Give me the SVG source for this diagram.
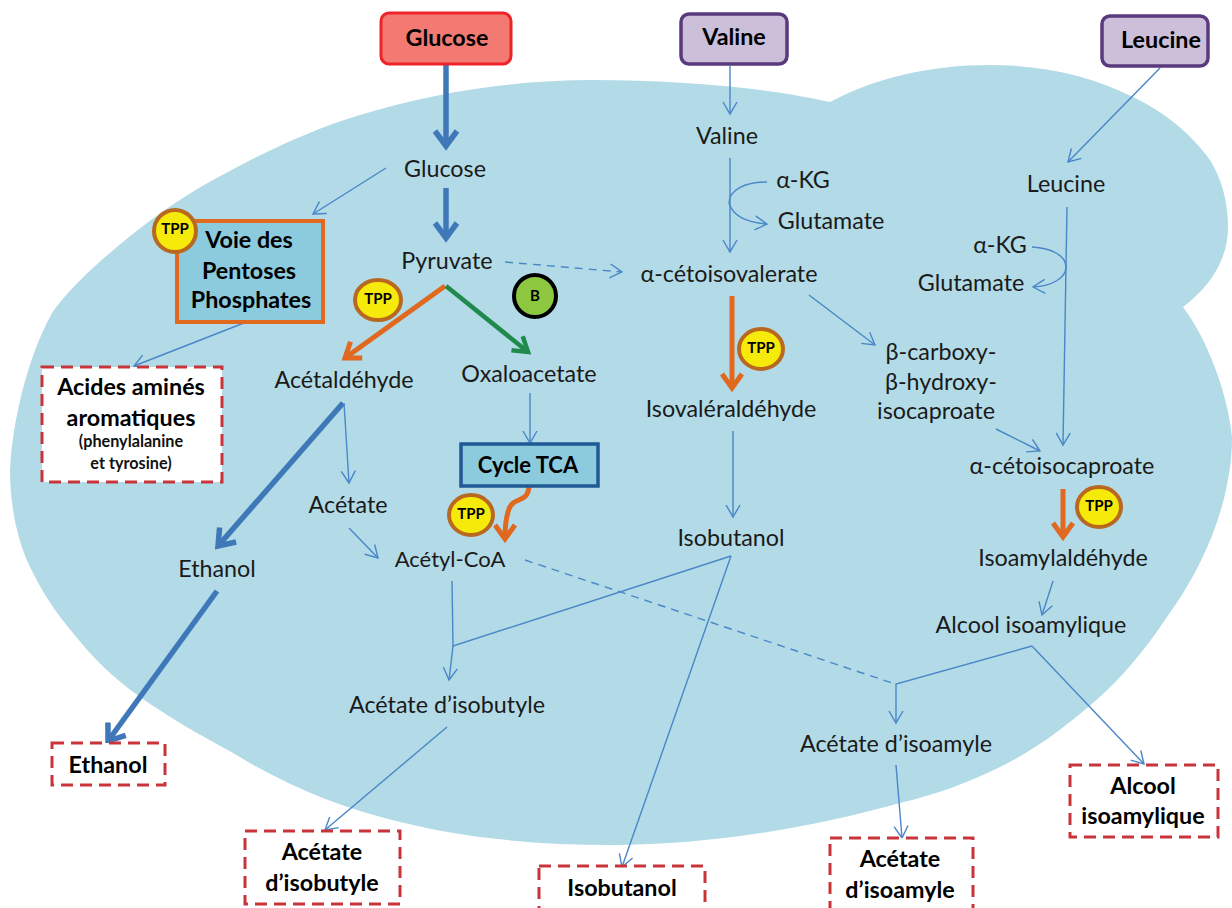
<svg xmlns="http://www.w3.org/2000/svg" width="1232" height="908" viewBox="0 0 1232 908">
<style>
text{font-family:"Lato","Carlito","Liberation Sans",sans-serif;fill:#1a1a1a;text-anchor:middle}
.l{font-size:23.3px}
.b{font-size:23.3px;font-weight:700;fill:#000}
.s{font-size:16.2px;font-weight:700;fill:#111}
.t{font-size:15px;font-weight:700;fill:#000}
.tc{fill:#f5ea0a;stroke:#b9691f;stroke-width:4}
.d{fill:#fff;stroke:#c9343a;stroke-width:3;stroke-dasharray:12 7}
.thin{fill:none;stroke:#4a86c8;stroke-width:1.4}
.dash{stroke-dasharray:8 6}
.thick{fill:none;stroke:#3f78b8;stroke-width:5.5}
.or{fill:none;stroke:#e0691f;stroke-width:5}
.gr{fill:none;stroke:#1f8a4c;stroke-width:4.5}
</style>
<defs>
<marker id="a" markerUnits="userSpaceOnUse" markerWidth="24" markerHeight="24" refX="14" refY="8" orient="auto"><path d="M2 1L14 8L2 15" fill="none" stroke="#4a86c8" stroke-width="1.4"/></marker>
<marker id="at" markerUnits="userSpaceOnUse" markerWidth="40" markerHeight="40" refX="20" refY="14" orient="auto"><path d="M5 3L20 14L5 25" fill="none" stroke="#3f78b8" stroke-width="5.5"/></marker>
<marker id="ao" markerUnits="userSpaceOnUse" markerWidth="40" markerHeight="40" refX="20" refY="14" orient="auto"><path d="M6 4L20 14L6 24" fill="none" stroke="#e0691f" stroke-width="5"/></marker>
<marker id="ag" markerUnits="userSpaceOnUse" markerWidth="40" markerHeight="40" refX="20" refY="14" orient="auto"><path d="M6 5L20 14L6 23" fill="none" stroke="#1f8a4c" stroke-width="4.5"/></marker>
</defs>
<rect width="1232" height="908" fill="#fff"/>
<path id="cell" fill="#b2dbe7" d="M10 470C12 425 26 360 52 313C68 290 92 268 117 247C145 223 180 198 213 180C260 154 310 130 360 115C435 92 515 80 593 80C680 80 770 88 830 102C875 78 930 65 990 65C1040 65 1090 75 1133 97C1165 112 1192 135 1210 160C1221 178 1228 200 1228 227C1228 258 1212 285 1183 307C1208 340 1228 395 1232 437C1232 500 1205 565 1167 617C1145 650 1120 680 1093 703C1065 727 1035 750 1000 767C970 782 935 795 900 803C810 828 710 845 612 845C535 845 465 838 400 822C340 808 285 785 233 753C200 735 170 718 140 697C113 678 92 657 73 633C55 612 41 590 30 567C17 540 10 505 10 470Z"/>
<g id="connectors">
<path class="thick" marker-end="url(#at)" d="M446 64L446 146"/>
<path class="thick" marker-end="url(#at)" d="M446 188L446 238"/>
<path class="thin" marker-end="url(#a)" d="M386 168L313 214"/>
<path class="thin" marker-end="url(#a)" d="M249 321L134 366"/>
<path class="thin dash" marker-end="url(#a)" d="M505 262L622 272"/>
<path class="or" marker-end="url(#ao)" d="M445 286L345 358"/>
<path class="gr" marker-end="url(#ag)" d="M446 286L528 352"/>
<path class="thin" marker-end="url(#a)" d="M530 393L530 443"/>
<path class="or" marker-end="url(#ao)" d="M529 487C527 505 512 495 508 512C505 522 505 530 505 539"/>
<path class="thick" marker-end="url(#at)" d="M343 403L218 546"/>
<path class="thin" marker-end="url(#a)" d="M344 403L349 483"/>
<path class="thin" marker-end="url(#a)" d="M349 528L378 558"/>
<path class="thick" marker-end="url(#at)" d="M217 591L108 741"/>
<path class="thin" d="M452 581L453 646L731 556"/>
<path class="thin" marker-end="url(#a)" d="M453 646L449 680"/>
<path class="thin" marker-end="url(#a)" d="M447 727L325 830"/>
<path class="thin" marker-end="url(#a)" d="M731 556L622 867"/>
<path class="thin" marker-end="url(#a)" d="M730 66L730 114"/>
<path class="thin" marker-end="url(#a)" d="M730 158L730 252"/>
<path class="thin" marker-end="url(#a)" d="M767 182C745 182 729 190 729 203C733 216 745 222 767 224"/>
<path class="or" marker-end="url(#ao)" d="M732 296L732 388"/>
<path class="thin" marker-end="url(#a)" d="M733 431L733 517"/>
<path class="thin" marker-end="url(#a)" d="M809 295L875 345"/>
<path class="thin" marker-end="url(#a)" d="M996 429L1040 451"/>
<path class="thin" marker-end="url(#a)" d="M1160 68L1068 162"/>
<path class="thin" marker-end="url(#a)" d="M1067 207L1063 445"/>
<path class="thin" marker-end="url(#a)" d="M1032 247C1052 248 1066 256 1066 267C1066 278 1052 286 1033 287"/>
<path class="or" marker-end="url(#ao)" d="M1063 489L1063 537"/>
<path class="thin" marker-end="url(#a)" d="M1053 581L1042 615"/>
<path class="thin dash" d="M525 560L895 684"/>
<path class="thin" marker-end="url(#a)" d="M1032 646L896 684L896 723"/>
<path class="thin" marker-end="url(#a)" d="M1032 646L1144 764"/>
<path class="thin" marker-end="url(#a)" d="M896 765L902 838"/>
</g>
<g id="n-glucose-ext"><rect x="381" y="13" width="130" height="51" rx="8" fill="#f27a72" stroke="#ee2229" stroke-width="3"/><text class="b" x="447" y="46">Glucose</text></g>
<g id="n-valine-ext"><rect x="681" y="14" width="106" height="50" rx="8" fill="#cbbfd9" stroke="#5a3a7e" stroke-width="3.5"/><text class="b" x="734" y="45">Valine</text></g>
<g id="n-leucine-ext"><rect x="1102" y="16" width="106" height="50" rx="8" fill="#cbbfd9" stroke="#5a3a7e" stroke-width="3.5"/><text class="b" x="1161" y="48">Leucine</text></g>
<g id="n-pentoses"><rect x="177" y="221" width="146" height="101" fill="#8ccbdd" stroke="#e0691f" stroke-width="4"/><text class="b" x="249" y="248">Voie des</text><text class="b" x="249" y="279">Pentoses</text><text class="b" x="251" y="308">Phosphates</text></g>
<g id="n-tca"><rect x="461" y="444" width="137" height="42" fill="#8ccbdd" stroke="#1f5a94" stroke-width="3.5"/><text class="b" x="528" y="473" style="font-size:22px">Cycle TCA</text></g>
<g id="n-aa"><rect x="42" y="367" width="180" height="115" class="d"/><text class="b" x="131" y="395">Acides aminés</text><text class="b" x="131" y="426">aromatiques</text><text class="s" x="131" y="447">(phenylalanine</text><text class="s" x="131" y="469">et tyrosine)</text></g>
<g id="n-ethanol-out"><rect x="52" y="743" width="113" height="42" class="d"/><text class="b" x="108" y="773">Ethanol</text></g>
<g id="n-aib-out"><rect x="245" y="831" width="155" height="73" class="d"/><text class="b" x="322" y="860">Acétate</text><text class="b" x="322" y="891">d’isobutyle</text></g>
<g id="n-iso-out"><rect x="539" y="866" width="166" height="50" class="d"/><text class="b" x="622" y="896">Isobutanol</text></g>
<g id="n-aiso-out"><rect x="830" y="838" width="143" height="75" class="d"/><text class="b" x="900" y="867">Acétate</text><text class="b" x="900" y="898">d’isoamyle</text></g>
<g id="n-alc-out"><rect x="1070" y="765" width="148" height="72" class="d"/><text class="b" x="1143" y="794">Alcool</text><text class="b" x="1143" y="824">isoamylique</text></g>
<g id="labels" transform="translate(0 1)">
<text class="l" x="445" y="176">Glucose</text>
<text class="l" x="447" y="268">Pyruvate</text>
<text class="l" x="344" y="387">Acétaldéhyde</text>
<text class="l" x="529" y="381">Oxaloacetate</text>
<text class="l" x="348" y="512">Acétate</text>
<text class="l" x="450" y="566" style="font-size:22px">Acétyl-CoA</text>
<text class="l" x="217" y="576">Ethanol</text>
<text class="l" x="447" y="712">Acétate d’isobutyle</text>
<text class="l" x="727" y="143">Valine</text>
<text class="l" x="803" y="187">α-KG</text>
<text class="l" x="831" y="228">Glutamate</text>
<text class="l" x="729" y="281">α-cétoisovalerate</text>
<text class="l" x="731" y="416">Isovaléraldéhyde</text>
<text class="l" x="731" y="545">Isobutanol</text>
<text class="l" x="941" y="359">β-carboxy-</text>
<text class="l" x="941" y="389">β-hydroxy-</text>
<text class="l" x="936" y="418">isocaproate</text>
<text class="l" x="1066" y="191">Leucine</text>
<text class="l" x="1000" y="252">α-KG</text>
<text class="l" x="971" y="290">Glutamate</text>
<text class="l" x="1062" y="473">α-cétoisocaproate</text>
<text class="l" x="1063" y="565">Isoamylaldéhyde</text>
<text class="l" x="1031" y="632">Alcool isoamylique</text>
<text class="l" x="896" y="751">Acétate d’isoamyle</text>
</g>
<g id="tpp1"><circle class="tc" cx="175" cy="231" r="21"/><text class="t" x="175" y="234">TPP</text></g>
<g id="tpp2"><ellipse class="tc" cx="378" cy="300" rx="23" ry="20"/><text class="t" x="378" y="304">TPP</text></g>
<g id="tpp3"><ellipse class="tc" cx="471" cy="515" rx="22" ry="20"/><text class="t" x="471" y="519">TPP</text></g>
<g id="tpp4"><ellipse class="tc" cx="761" cy="349" rx="22" ry="20"/><text class="t" x="761" y="353">TPP</text></g>
<g id="tpp5"><ellipse class="tc" cx="1099" cy="507" rx="22" ry="20"/><text class="t" x="1099" y="511">TPP</text></g>
<g id="b"><circle cx="535" cy="296" r="21" fill="#8dc63f" stroke="#000" stroke-width="4"/><text class="t" x="535" y="301">B</text></g>
</svg>
